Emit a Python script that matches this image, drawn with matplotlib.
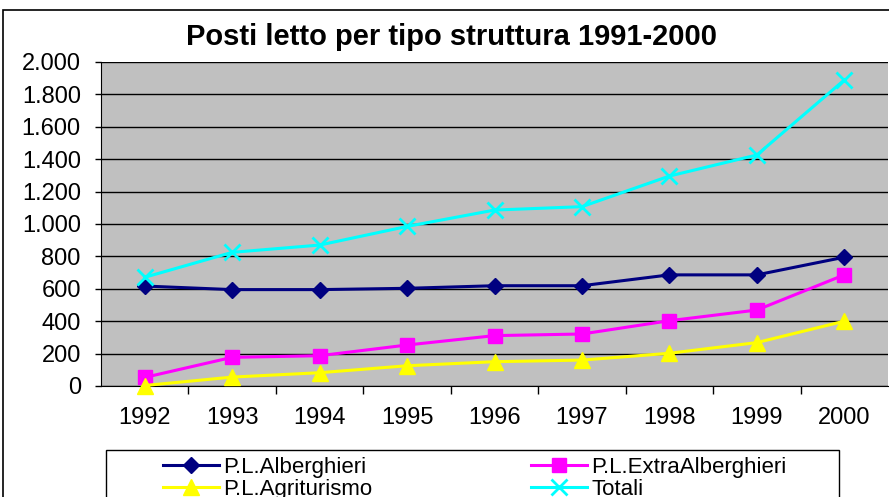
import matplotlib
matplotlib.use("Agg")
import matplotlib.pyplot as plt
from matplotlib.patches import Rectangle

plt.rcParams['font.family'] = ['Liberation Sans', 'DejaVu Sans']

years = ['1992', '1993', '1994', '1995', '1996', '1997', '1998', '1999', '2000']
alberghieri = [617, 595, 595, 603, 619, 619, 686, 686, 795]
extra_alberghieri = [53, 177, 187, 253, 311, 321, 403, 469, 686]
agriturismo = [3, 55, 82, 125, 150, 160, 202, 268, 400]
totali = [671, 825, 870, 985, 1086, 1107, 1296, 1426, 1889]
y_ticks = [0, 200, 400, 600, 800, 1000, 1200, 1400, 1600, 1800, 2000]
y_labels = ['0', '200', '400', '600', '800', '1.000', '1.200', '1.400', '1.600', '1.800', '2.000']
title = 'Posti letto per tipo struttura 1991-2000'

W, H = 889, 497
fig = plt.figure(figsize=(W / 100, H / 100), dpi=100)

# outer chart border
fig.patches.append(Rectangle((3 / W, -0.1), 1.2, 1 - 10 / H + 0.1, transform=fig.transFigure,
                             fill=False, edgecolor='black', linewidth=1.2))

ax = fig.add_axes([101 / W, 1 - 386 / H, (888 - 101) / W, (386 - 62) / H])
ax.set_facecolor('#C0C0C0')
x = list(range(len(years)))

ax.plot(x, alberghieri, color='#000080', marker='D', markersize=8, linewidth=2.2, label='P.L.Alberghieri', clip_on=False, zorder=3)
ax.plot(x, extra_alberghieri, color='#FF00FF', marker='s', markersize=10, linewidth=2.2, label='P.L.ExtraAlberghieri', clip_on=False, zorder=3)
ax.plot(x, agriturismo, color='#FFFF00', marker='^', markersize=11, linewidth=2.2, label='P.L.Agriturismo', clip_on=False, zorder=3)
ax.plot(x, totali, color='#00FFFF', marker='x', markersize=11, markeredgewidth=2, linewidth=2.2, label='Totali', clip_on=False, zorder=3)

ax.set_xlim(-0.5, len(years) - 0.5)
ax.set_ylim(0, 2000)
ax.set_yticks(y_ticks)
ax.set_yticklabels(y_labels)
ax.set_xticks(x)
ax.set_xticklabels(years)
ax.set_xticks([i + 0.5 for i in x[:-1]], minor=True)
ax.tick_params(axis='x', which='major', length=0, pad=15, labelsize=17)
ax.tick_params(axis='x', which='minor', length=6, width=1, direction='out', color='black')
ax.tick_params(axis='y', length=4.5, width=1, direction='out', labelsize=17, pad=10)
ax.yaxis.grid(True, color='black', linewidth=1)
ax.set_axisbelow(True)
for s in ['top', 'right']:
    ax.spines[s].set_visible(False)
ax.spines['left'].set_color('black')
ax.spines['bottom'].set_color('black')

fig.text(451 / W, 1 - 37 / H, title, ha='center', va='center', fontsize=21, fontweight='bold')

# legend frame
fig.patches.append(Rectangle((106 / W, -0.1), (839 - 106) / W, 1 - 450 / H + 0.1, transform=fig.transFigure,
                             fill=True, facecolor='white', edgecolor='black', linewidth=1, zorder=0))

h, l = ax.get_legend_handles_labels()
common = dict(loc='upper left', frameon=False, fontsize=16, handlelength=2.5, handletextpad=0.2,
              borderpad=0, borderaxespad=0, labelspacing=0.05)
leg1 = fig.legend([h[0], h[2]], [l[0], l[2]], bbox_to_anchor=(163 / W, 1 - 457 / H), **common)
leg2 = fig.legend([h[1], h[3]], [l[1], l[3]], bbox_to_anchor=(531 / W, 1 - 457 / H), **common)

fig.savefig('out.png', dpi=100)
